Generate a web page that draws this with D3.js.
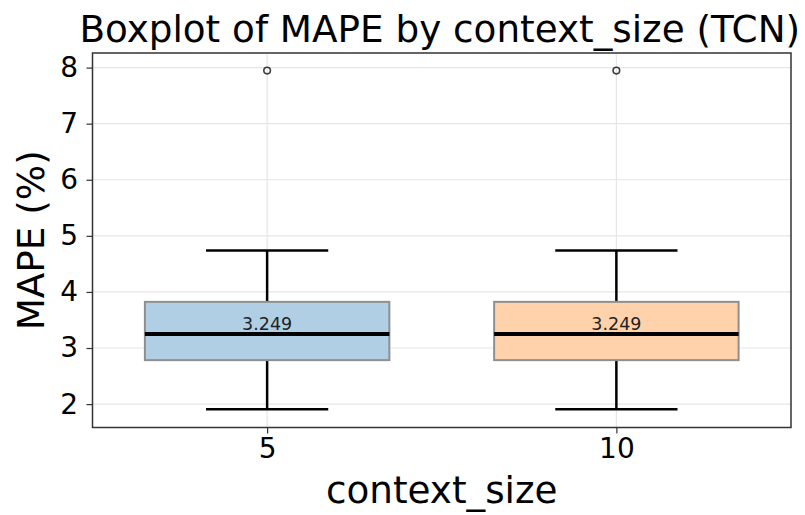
<!DOCTYPE html>
<html>
<head>
<meta charset="utf-8">
<script src="https://cdn.jsdelivr.net/npm/d3@7"></script>
<style>
  body { margin: 0; background: #fff; }
  text { font-family: "DejaVu Sans", sans-serif; }
</style>
</head>
<body>
<script>
// Box statistics per context_size
var categories = ["5", "10"];
var whiskerLow = [1.91, 1.91];
var q1 = [2.784, 2.784];
var median = [3.249, 3.249];
var q3 = [3.823, 3.823];
var whiskerHigh = [4.738, 4.738];
var outliers = [[7.947], [7.947]];
var yTicks = [2, 3, 4, 5, 6, 7, 8];

var fills = ["#b0cfe5", "#ffd2ab"];

var W = 805;
var H = 515;
var margin = {top: 53, right: 14, bottom: 87.5, left: 92.5};

function main() {
  var svg = d3.select("body").append("svg")
    .attr("width", W)
    .attr("height", H);

  var xScale = d3.scalePoint()
    .domain(categories)
    .range([margin.left, W - margin.right])
    .padding(0.5);
  var step = xScale.step();

  var yScale = d3.scaleLinear()
    .domain([1.583, 8.26])
    .range([H - margin.bottom, margin.top]);

  // grid
  var grid = svg.append("g");
  grid.selectAll("line.gy")
    .data(yTicks)
    .enter().append("line")
    .attr("x1", margin.left).attr("x2", W - margin.right)
    .attr("y1", function(d) { return yScale(d); })
    .attr("y2", function(d) { return yScale(d); })
    .attr("stroke", "#e6e6e6").attr("stroke-width", 1.2);
  grid.selectAll("line.gx")
    .data(categories)
    .enter().append("line")
    .attr("y1", margin.top).attr("y2", H - margin.bottom)
    .attr("x1", function(d) { return xScale(d); })
    .attr("x2", function(d) { return xScale(d); })
    .attr("stroke", "#e6e6e6").attr("stroke-width", 1.2);

  var idx = d3.range(categories.length);
  var g = svg.append("g");

  // whiskers
  g.selectAll("line.wlo")
    .data(idx).enter().append("line")
    .attr("x1", function(i) { return xScale(categories[i]); })
    .attr("x2", function(i) { return xScale(categories[i]); })
    .attr("y1", function(i) { return yScale(whiskerLow[i]); })
    .attr("y2", function(i) { return yScale(q1[i]); })
    .attr("stroke", "#000").attr("stroke-width", 2.5);
  g.selectAll("line.whi")
    .data(idx).enter().append("line")
    .attr("x1", function(i) { return xScale(categories[i]); })
    .attr("x2", function(i) { return xScale(categories[i]); })
    .attr("y1", function(i) { return yScale(whiskerHigh[i]); })
    .attr("y2", function(i) { return yScale(q3[i]); })
    .attr("stroke", "#000").attr("stroke-width", 2.5);

  // caps
  [whiskerLow, whiskerHigh].forEach(function(arr) {
    g.selectAll(null)
      .data(idx).enter().append("line")
      .attr("x1", function(i) { return xScale(categories[i]) - step * 0.175; })
      .attr("x2", function(i) { return xScale(categories[i]) + step * 0.175; })
      .attr("y1", function(i) { return yScale(arr[i]); })
      .attr("y2", function(i) { return yScale(arr[i]); })
      .attr("stroke", "#000").attr("stroke-width", 2.5);
  });

  // boxes
  g.selectAll("rect.box")
    .data(idx).enter().append("rect")
    .attr("x", function(i) { return xScale(categories[i]) - step * 0.35; })
    .attr("width", step * 0.7)
    .attr("y", function(i) { return yScale(q3[i]); })
    .attr("height", function(i) { return yScale(q1[i]) - yScale(q3[i]); })
    .attr("fill", function(i) { return fills[i]; })
    .attr("stroke", "#8f8f8f").attr("stroke-width", 2);

  // medians
  g.selectAll("line.med")
    .data(idx).enter().append("line")
    .attr("x1", function(i) { return xScale(categories[i]) - step * 0.35; })
    .attr("x2", function(i) { return xScale(categories[i]) + step * 0.35; })
    .attr("y1", function(i) { return yScale(median[i]); })
    .attr("y2", function(i) { return yScale(median[i]); })
    .attr("stroke", "#000").attr("stroke-width", 4);

  // outliers
  idx.forEach(function(i) {
    g.selectAll(null)
      .data(outliers[i]).enter().append("circle")
      .attr("cx", xScale(categories[i]))
      .attr("cy", function(d) { return yScale(d); })
      .attr("r", 3.3)
      .attr("fill", "none")
      .attr("stroke", "#3d3d3d").attr("stroke-width", 1.6);
  });

  // median labels
  g.selectAll("text.ml")
    .data(idx).enter().append("text")
    .attr("x", function(i) { return xScale(categories[i]); })
    .attr("y", function(i) { return yScale(median[i]) - 4; })
    .attr("text-anchor", "middle")
    .attr("font-size", "17.5px")
    .attr("fill", "#222")
    .text(function(i) { return median[i].toFixed(3); });

  // axes
  var xAxis = d3.axisBottom(xScale).tickSize(6).tickPadding(5);
  var yAxis = d3.axisLeft(yScale).tickValues(yTicks).tickFormat(d3.format("d"))
    .tickSize(6).tickPadding(8.5);

  var gx = svg.append("g")
    .attr("transform", "translate(0," + (H - margin.bottom) + ")")
    .call(xAxis);
  var gy = svg.append("g")
    .attr("transform", "translate(" + margin.left + ",0)")
    .call(yAxis);
  [gx, gy].forEach(function(a) {
    a.select(".domain").remove();
    a.selectAll(".tick line").attr("stroke", "#333").attr("stroke-width", 1.2);
    a.selectAll(".tick text")
      .attr("font-family", "DejaVu Sans, sans-serif")
      .attr("font-size", "28px")
      .attr("fill", "#000");
  });

  // frame
  svg.append("rect")
    .attr("x", margin.left).attr("y", margin.top)
    .attr("width", W - margin.left - margin.right)
    .attr("height", H - margin.top - margin.bottom)
    .attr("fill", "none")
    .attr("stroke", "#333").attr("stroke-width", 1.5);

  // labels
  svg.append("text")
    .attr("x", (margin.left + W - margin.right) / 2 - 2)
    .attr("y", 41.5)
    .attr("text-anchor", "middle")
    .attr("font-size", "37.3px")
    .text("Boxplot of MAPE by context_size (TCN)");

  svg.append("text")
    .attr("x", (margin.left + W - margin.right) / 2)
    .attr("y", 503)
    .attr("text-anchor", "middle")
    .attr("font-size", "37.3px")
    .text("context_size");

  svg.append("text")
    .attr("transform", "translate(44," + ((margin.top + H - margin.bottom) / 2) + ") rotate(-90)")
    .attr("text-anchor", "middle")
    .attr("font-size", "37.3px")
    .text("MAPE (%)");
}

main();
</script>
</body>
</html>
